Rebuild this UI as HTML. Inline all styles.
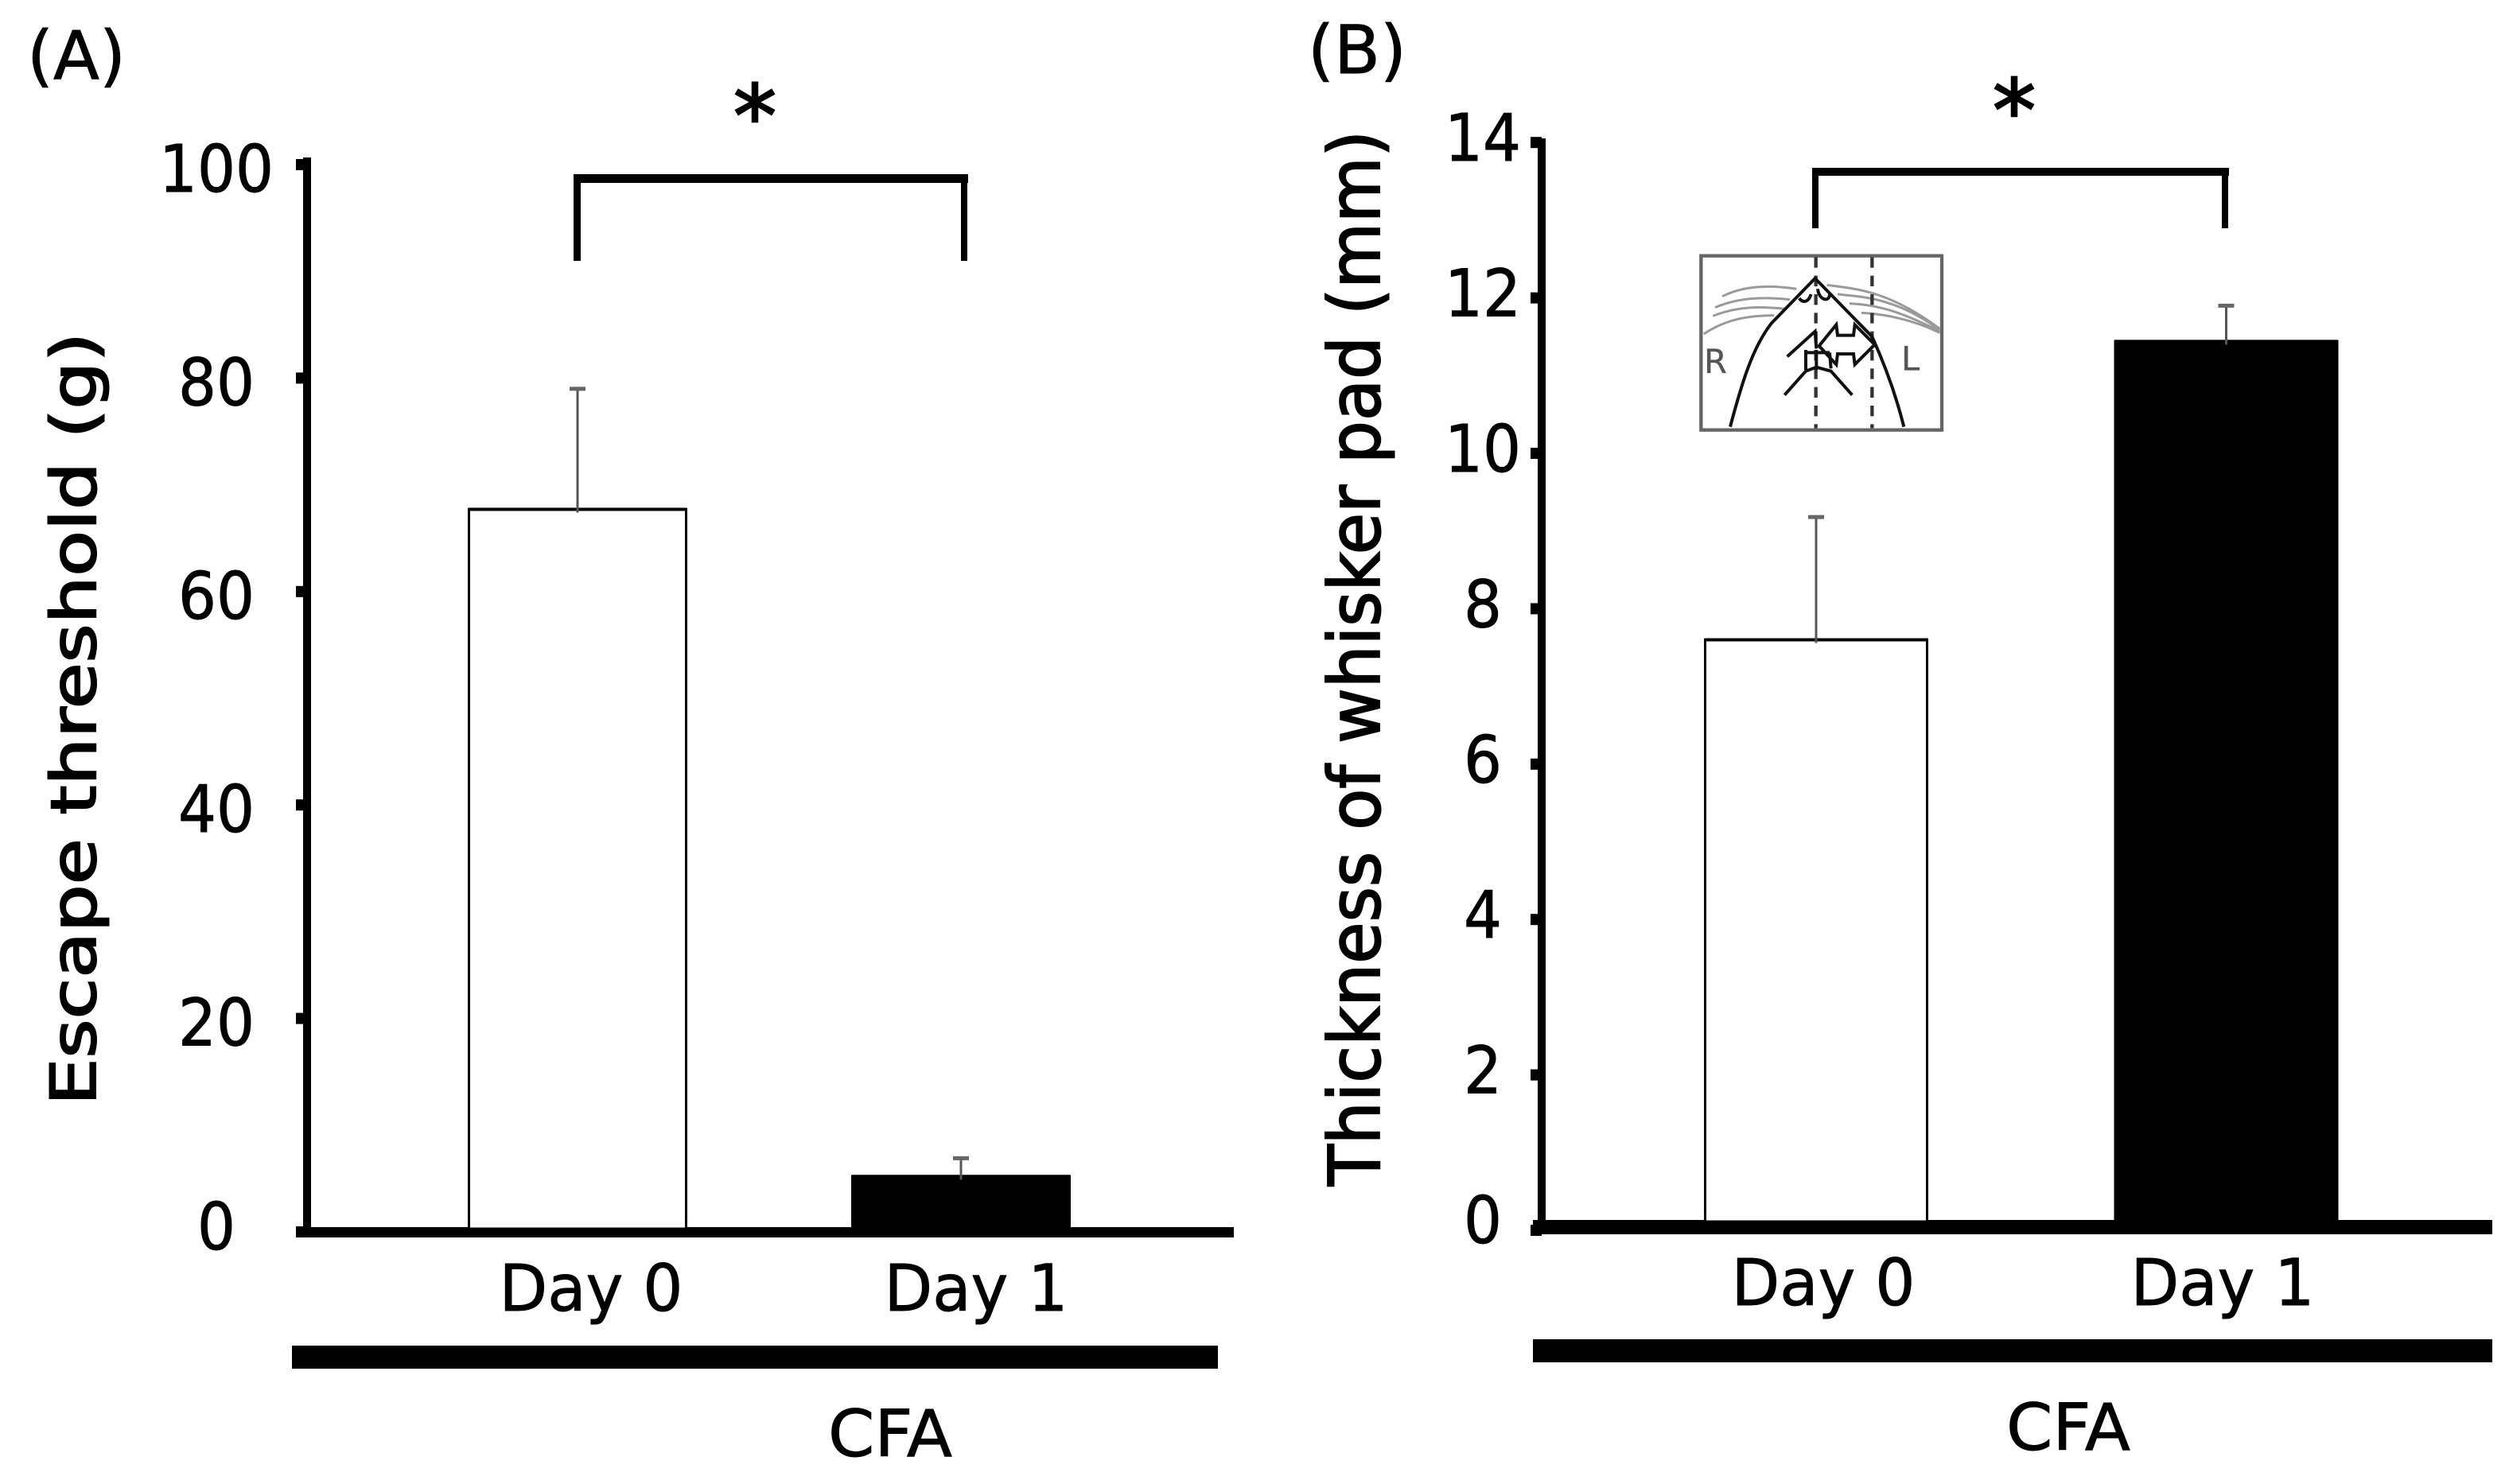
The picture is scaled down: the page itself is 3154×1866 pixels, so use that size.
<!DOCTYPE html>
<html lang="en">
<head>
<meta charset="utf-8">
<title>Escape threshold and whisker pad thickness after CFA</title>
<style>
html,body{margin:0;padding:0;background:#fff;width:3154px;height:1866px;overflow:hidden}
svg{display:block}
text{font-family:"DejaVu Sans","Liberation Sans",sans-serif;fill:#000;stroke:#000;stroke-width:.9px}
.title{stroke-width:2px}
.star{stroke-width:2.5px}
.inset-letter{fill:#555;stroke:#555;stroke-width:1px}
</style>
</head>
<body>
<svg id="figure" xmlns="http://www.w3.org/2000/svg" width="3154" height="1866" viewBox="0 0 3154 1866">
  <rect x="0" y="0" width="3154" height="1866" fill="#fff"/>

  <g id="panel-a">
    <text x="34" y="99" font-size="84" textLength="124" lengthAdjust="spacingAndGlyphs">(A)</text>
    <text class="title" transform="rotate(-90 120 1390)" x="120" y="1390" font-size="78" textLength="972" lengthAdjust="spacingAndGlyphs">Escape threshold (g)</text>
    <rect x="381" y="198" width="10" height="1352" fill="#000"/>
    <rect x="367" y="1692" width="1164" height="29" fill="#000"/>
    <text x="1119" y="1831" font-size="81" text-anchor="middle" textLength="156" lengthAdjust="spacingAndGlyphs">CFA</text>
    <g fill="#000">
      <rect x="721" y="219" width="496" height="11"/>
      <rect x="721" y="219" width="9" height="109"/>
      <rect x="1208" y="219" width="8" height="109"/>
    </g>
    <text class="star" x="949" y="184" font-size="108" text-anchor="middle">*</text>
  </g>

  <g id="panel-b">
    <text x="1644" y="92" font-size="84" textLength="124" lengthAdjust="spacingAndGlyphs">(B)</text>
    <text class="title" transform="rotate(-90 1734 1491)" x="1734" y="1491" font-size="89" textLength="1327" lengthAdjust="spacingAndGlyphs">Thickness of whisker pad (mm)</text>
    <rect x="1933" y="174" width="10" height="1370" fill="#000"/>
    <rect x="1927" y="1684" width="1206" height="29" fill="#000"/>
    <text x="2600" y="1823" font-size="81" text-anchor="middle" textLength="156" lengthAdjust="spacingAndGlyphs">CFA</text>
    <g fill="#000">
      <rect x="2278" y="211" width="524" height="10"/>
      <rect x="2278" y="211" width="8" height="76"/>
      <rect x="2793" y="211" width="8" height="76"/>
    </g>
    <text class="star" x="2532" y="177" font-size="108" text-anchor="middle">*</text>

    <g transform="translate(2080 280) scale(0.33333)" fill="none">
      <rect x="175" y="125" width="908" height="657" stroke="#666" stroke-width="13"/>
      <g stroke="#9a9a9a" stroke-width="9">
        <path d="M255,278 C340,235 440,235 535,250"/>
        <path d="M228,320 C320,280 420,280 510,290"/>
        <path d="M220,352 C310,315 400,315 490,325"/>
        <path d="M185,420 C260,370 340,350 450,350"/>
        <path d="M650,235 C760,250 880,255 1075,400"/>
        <path d="M690,270 C800,280 920,290 1075,405"/>
        <path d="M735,305 C820,310 900,320 1075,410"/>
        <path d="M780,340 C880,345 980,370 1075,415"/>
      </g>
      <g stroke="#333" stroke-width="13" stroke-dasharray="40 30">
        <path d="M608,130 V775"/>
        <path d="M820,130 V775"/>
      </g>
      <g stroke="#111" stroke-width="12">
        <path d="M285,770 C330,600 370,470 440,380 L605,210 L820,430 C870,540 910,650 940,770"/>
        <path d="M545,285 C560,305 580,300 590,270"/>
        <path d="M615,250 C620,295 660,300 660,270"/>
        <path d="M620,465 L685,385 L690,425 L750,425 L755,385 L830,460 L755,535 L750,495 L690,495 L685,535 Z"/>
        <path d="M500,505 L605,410 L610,475"/>
        <path d="M570,480 V555 M610,480 V555 M660,490 L665,550 M570,490 H660"/>
        <path d="M490,650 L570,560 L610,545 L665,560 L745,650"/>
      </g>
      <text class="inset-letter" x="186" y="567" font-size="125">R</text>
      <text class="inset-letter" x="930" y="557" font-size="125">L</text>
    </g>
  </g>
</svg>
<script>
var categoriesA = ['Day 0', 'Day 1'];
var meansA = [67.7, 5.2];
var errorsA = [11.3, 1.7];
var ticksA = [0, 20, 40, 60, 80, 100];
var tickLabelsA = ['0', '20', '40', '60', '80', '100'];

var categoriesB = ['Day 0', 'Day 1'];
var meansB = [7.6, 11.44];
var errorsB = [1.58, 0.46];
var ticksB = [0, 2, 4, 6, 8, 10, 12, 14];
var tickLabelsB = ['0', '2', '4', '6', '8', '10', '12', '14'];

var barFills = ['#fff', '#000'];

var SVG_NS = 'http://www.w3.org/2000/svg';

function make(parent, tag, attrs) {
  var node = document.createElementNS(SVG_NS, tag);
  for (var k in attrs) node.setAttribute(k, attrs[k]);
  parent.appendChild(node);
  return node;
}

function drawPanel(id, cats, means, errors, ticks, labels, yScale, labelY, barX, catX, cfg) {
  var root = document.getElementById('panel-' + id);
  var el;

  ticks.forEach(function (v, i) {
    el = make(root, 'rect', { x: cfg.axisX - 13, y: yScale(v) - 7, width: 14, height: 14, fill: '#000' });
    
    

    el = make(root, 'text', {
      x: cfg.tickLabelX,
      y: labelY(v) + 30,
      'font-size': 82,
      'text-anchor': 'middle',
      textLength: labels[i].length * 48,
      lengthAdjust: 'spacingAndGlyphs'
    });
    el.textContent = labels[i];
    
    
  });

  el = make(root, 'rect', { x: cfg.baseLeft, y: cfg.baseTop, width: cfg.baseRight - cfg.baseLeft, height: cfg.baseHeight, fill: '#000' });
  
  

  cats.forEach(function (cat, i) {
    var cx = barX(i);
    var left = cx - cfg.barWidth / 2;
    var top = yScale(means[i]);
    var errTop = yScale(means[i] + errors[i]);

    el = make(root, 'rect', {
      x: left, y: top, width: cfg.barWidth, height: cfg.baseTop - top + 2,
      fill: barFills[i], stroke: '#000', 'stroke-width': 3
    });
    
    

    el = make(root, 'rect', { x: left - 1, y: top - 2, width: cfg.barWidth + 2, height: 4, fill: '#000' });
    
    

    el = make(root, 'line', { x1: cx, x2: cx, y1: errTop, y2: top + 4, stroke: '#555', 'stroke-width': 3 });
    
    

    el = make(root, 'line', { x1: cx - 10, x2: cx + 10, y1: errTop, y2: errTop, stroke: '#666', 'stroke-width': 5 });
    
    

    el = make(root, 'text', {
      x: catX(i), y: cfg.catBaseline, 'font-size': 81, 'text-anchor': 'middle',
      textLength: 231, lengthAdjust: 'spacingAndGlyphs'
    });
    el.textContent = cat;
    
    
  });
}

function yA(v) { return 1549 - 13.42 * v; }
function labelYA(v) { return v === 0 ? 1541 : yA(v) + 4; }
function barXA(i) { return 726 + 482 * i; }
function catXA(i) { return 743 + 484 * i; }

function yB(v) { return 1547 - 97.7 * v; }
function labelYB(v) { return v === 0 ? 1533 : yB(v) - 7; }
function barXB(i) { return 2283 + 515.5 * i; }
function catXB(i) { return 2292 + 502 * i; }

drawPanel('a', categoriesA, meansA, errorsA, ticksA, tickLabelsA, yA, labelYA, barXA, catXA, {
  axisX: 385, tickLabelX: 272, baseLeft: 372, baseRight: 1551, baseTop: 1543, baseHeight: 13,
  barWidth: 273, catBaseline: 1648
});
drawPanel('b', categoriesB, meansB, errorsB, ticksB, tickLabelsB, yB, labelYB, barXB, catXB, {
  axisX: 1937, tickLabelX: 1864, baseLeft: 1927, baseRight: 3133, baseTop: 1534, baseHeight: 18,
  barWidth: 279, catBaseline: 1641
});
</script>
</body>
</html>
